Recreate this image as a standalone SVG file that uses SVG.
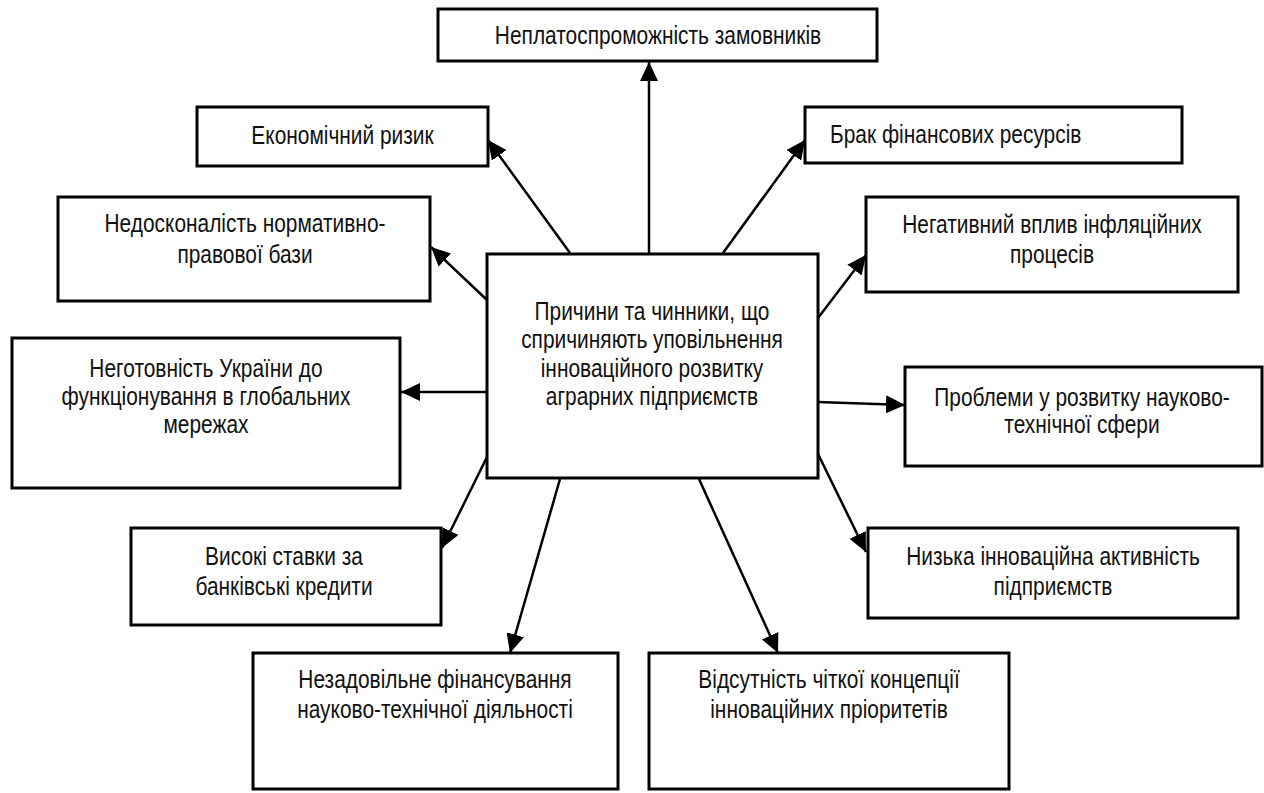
<svg xmlns="http://www.w3.org/2000/svg" width="1264" height="793" viewBox="0 0 1264 793">
<style>
.box{fill:#fff;stroke:#000;stroke-width:3}
.t{font-family:"Liberation Sans",Arial,sans-serif;font-size:25.5px;fill:#111;text-anchor:middle}
.tl{text-anchor:start}
.c{stroke:#000;stroke-width:2.5;fill:none;marker-end:url(#ah)}
</style>
<defs>
<marker id="ah" markerUnits="userSpaceOnUse" markerWidth="20" markerHeight="18" refX="19" refY="9" orient="auto">
<path d="M0,0 L19,9 L0,18 Z" fill="#000"/>
</marker>
</defs>
<rect width="1264" height="793" fill="#fff"/>
<g id="connectors">
<line class="c" x1="649" y1="254" x2="649" y2="62"/>
<line class="c" x1="570" y1="253" x2="488" y2="140"/>
<line class="c" x1="723" y1="253" x2="805" y2="140"/>
<line class="c" x1="487" y1="300" x2="431" y2="247"/>
<line class="c" x1="487" y1="392" x2="401" y2="392"/>
<line class="c" x1="818" y1="318" x2="866" y2="255"/>
<line class="c" x1="818" y1="402" x2="905" y2="405"/>
<line class="c" x1="487" y1="457" x2="442" y2="548"/>
<line class="c" x1="560" y1="479" x2="510" y2="653"/>
<line class="c" x1="699" y1="479" x2="778" y2="653"/>
<line class="c" x1="818" y1="454" x2="866" y2="552"/>
</g>
<g id="center">
<rect class="box" x="487" y="254" width="331" height="224"/>
<text class="t" transform="translate(652,320) scale(0.82,1)">Причини та чинники, що</text>
<text class="t" transform="translate(652,348) scale(0.82,1)">спричиняють уповільнення</text>
<text class="t" transform="translate(652,377) scale(0.82,1)">інноваційного розвитку</text>
<text class="t" transform="translate(652,405) scale(0.82,1)">аграрних підприємств</text>
</g>
<g id="n1">
<rect class="box" x="438" y="9" width="439" height="52"/>
<text class="t" transform="translate(658,44) scale(0.82,1)">Неплатоспроможність замовників</text>
</g>
<g id="n2">
<rect class="box" x="197" y="107" width="291" height="59"/>
<text class="t" transform="translate(342.5,144) scale(0.82,1)">Економічний ризик</text>
</g>
<g id="n3">
<rect class="box" x="805" y="107" width="377" height="56"/>
<text class="t tl" transform="translate(830,143) scale(0.82,1)">Брак фінансових ресурсів</text>
</g>
<g id="n4">
<rect class="box" x="58" y="197" width="372" height="104"/>
<text class="t" transform="translate(245,232) scale(0.82,1)">Недосконалість нормативно-</text>
<text class="t" transform="translate(245,263) scale(0.82,1)">правової бази</text>
</g>
<g id="n5">
<rect class="box" x="866" y="197" width="372" height="95"/>
<text class="t" transform="translate(1052,233) scale(0.82,1)">Негативний вплив інфляційних</text>
<text class="t" transform="translate(1052,263) scale(0.82,1)">процесів</text>
</g>
<g id="n6">
<rect class="box" x="12" y="338" width="388" height="150"/>
<text class="t" transform="translate(206,377) scale(0.82,1)">Неготовність України до</text>
<text class="t" transform="translate(206,405) scale(0.82,1)">функціонування в глобальних</text>
<text class="t" transform="translate(206,433) scale(0.82,1)">мережах</text>
</g>
<g id="n7">
<rect class="box" x="905" y="367" width="357" height="99"/>
<text class="t" transform="translate(1082,406) scale(0.82,1)">Проблеми у розвитку науково-</text>
<text class="t" transform="translate(1082,433) scale(0.82,1)">технічної сфери</text>
</g>
<g id="n8">
<rect class="box" x="131" y="528" width="310" height="97"/>
<text class="t" transform="translate(284,565) scale(0.82,1)">Високі ставки за</text>
<text class="t" transform="translate(284,595) scale(0.82,1)">банківські кредити</text>
</g>
<g id="n9">
<rect class="box" x="868" y="528" width="370" height="90"/>
<text class="t" transform="translate(1053,565) scale(0.82,1)">Низька інноваційна активність</text>
<text class="t" transform="translate(1053,595) scale(0.82,1)">підприємств</text>
</g>
<g id="n10">
<rect class="box" x="253" y="653" width="365" height="136"/>
<text class="t" transform="translate(435,688) scale(0.82,1)">Незадовільне фінансування</text>
<text class="t" transform="translate(435,718) scale(0.82,1)">науково-технічної діяльності</text>
</g>
<g id="n11">
<rect class="box" x="649" y="653" width="360" height="136"/>
<text class="t" transform="translate(829,688) scale(0.82,1)">Відсутність чіткої концепції</text>
<text class="t" transform="translate(829,718) scale(0.82,1)">інноваційних пріоритетів</text>
</g>
</svg>
